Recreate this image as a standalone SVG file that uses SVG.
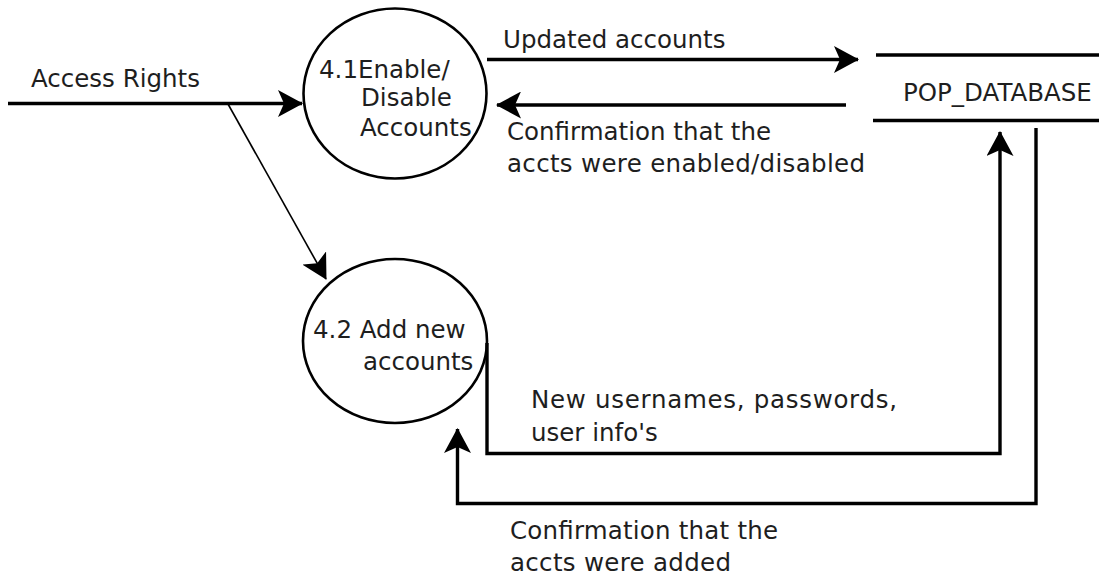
<svg xmlns="http://www.w3.org/2000/svg" width="1099" height="577" viewBox="0 0 1099 577">
  <style>
    .bg { fill: #ffffff; }
    .proc { fill: none; stroke: #000; stroke-width: 2.6; }
    .store { stroke: #000; stroke-width: 3.5; }
    .flow { fill: none; stroke: #000; stroke-width: 3.4; marker-end: url(#head); }
    .thin { fill: none; stroke: #000; stroke-width: 1.6; marker-end: url(#head); }
    text { font-family: "DejaVu Sans", "Liberation Sans", sans-serif; font-size: 24.5px; fill: #1e1e1e; }
  </style>
  <defs>
    <!-- filled arrowhead with a slightly notched back -->
    <marker id="head" markerUnits="userSpaceOnUse" markerWidth="25" markerHeight="27" viewBox="0 0 25 27" refX="24" refY="13.5" orient="auto">
      <path d="M0,0 L25,13.5 L0,27 L6,13.5 Z" fill="#000"/>
    </marker>
  </defs>

  <rect class="bg" x="0" y="0" width="1099" height="577"/>

  <!-- processes -->
  <g id="p41">
    <ellipse class="proc" cx="395" cy="93.5" rx="91.5" ry="85"/>
    <text x="319" y="78">4.1Enable/</text>
    <text x="361" y="106">Disable</text>
    <text x="360" y="136">Accounts</text>
  </g>
  <g id="p42">
    <ellipse class="proc" cx="395" cy="341" rx="92" ry="82"/>
    <text x="313" y="338">4.2 Add new</text>
    <text x="363" y="370">accounts</text>
  </g>

  <!-- data store -->
  <g id="pop_database">
    <line class="store" x1="876" y1="55" x2="1099" y2="55"/>
    <line class="store" x1="873" y1="120.5" x2="1099" y2="120.5"/>
    <text x="903" y="101">POP_DATABASE</text>
  </g>

  <!-- data flows -->
  <g id="flows">
    <path class="flow" d="M8,103.5 H302"/>
    <path class="thin" d="M228,104 L326,279"/>
    <path class="flow" d="M487,59.5 H858"/>
    <path class="flow" d="M846,105 H497"/>
    <path class="flow" d="M487,343 V453.5 H1000 V132"/>
    <path class="flow" d="M1036,128 V503.5 H457.5 V429"/>
  </g>

  <!-- flow labels -->
  <g id="labels">
    <text x="31" y="87">Access Rights</text>
    <text x="503" y="48">Updated accounts</text>
    <text x="507" y="140">Confirmation that the</text>
    <text x="507" y="172" textLength="358" lengthAdjust="spacing">accts were enabled/disabled</text>
    <text x="531" y="408" textLength="366" lengthAdjust="spacing">New usernames, passwords,</text>
    <text x="531" y="441">user info's</text>
    <text x="510" y="539" textLength="268" lengthAdjust="spacing">Confirmation that the</text>
    <text x="510" y="571" textLength="221" lengthAdjust="spacing">accts were added</text>
  </g>
</svg>
